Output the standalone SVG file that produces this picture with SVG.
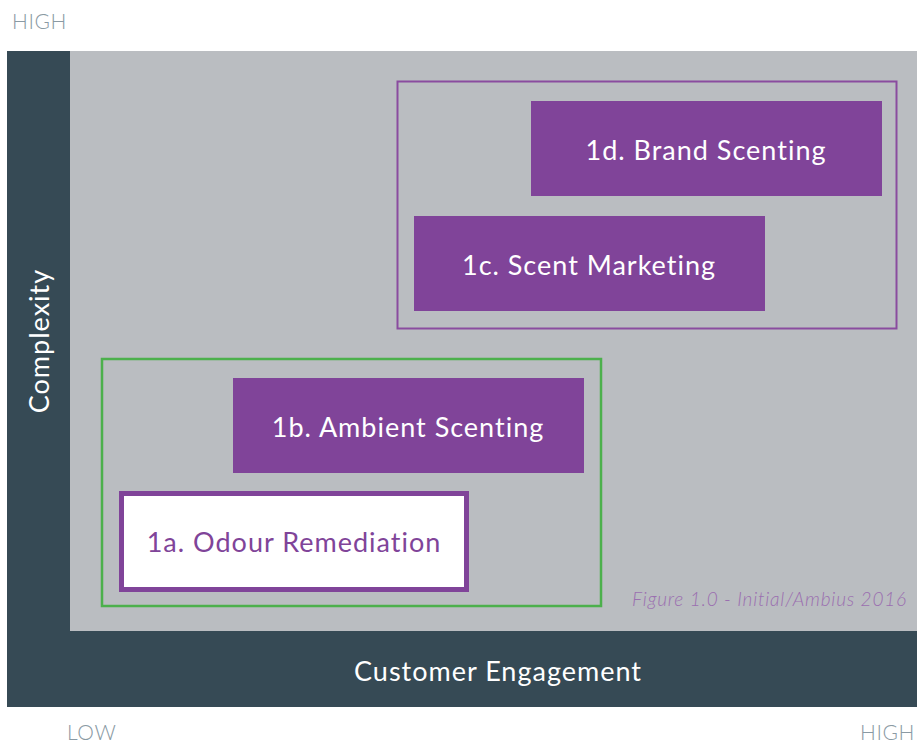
<svg xmlns="http://www.w3.org/2000/svg" width="917" height="745" viewBox="0 0 917 745">
<style>
.lbl{font-family:Lato,"Open Sans","Liberation Sans",sans-serif;font-size:27px;fill:#ffffff;text-anchor:middle;letter-spacing:1px}
.axis{font-family:Lato,"Open Sans","Liberation Sans",sans-serif;font-size:21px;fill:#8a9aa4;font-weight:300;letter-spacing:0.6px}
.box{fill:#804499}
</style>
<rect width="917" height="745" fill="#ffffff"/>
<g id="frame">
<rect x="7" y="51" width="910" height="656" fill="#364a55"/>
<rect x="70" y="51" width="847" height="580" fill="#babdc1"/>
</g>
<g id="axis-labels">
<text class="axis" x="12" y="29">HIGH</text>
<text class="axis" x="67" y="740">LOW</text>
<text class="axis" x="860" y="740">HIGH</text>
<text class="lbl" x="498" y="681">Customer Engagement</text>
<text class="lbl" transform="translate(49,341) rotate(-90)">Complexity</text>
</g>
<g id="groups">
<rect x="397.5" y="81.5" width="499" height="247" fill="none" stroke="#8a4c9f" stroke-width="2"/>
<rect x="102" y="359" width="499" height="247" fill="none" stroke="#4cb04c" stroke-width="2.5"/>
</g>
<g id="node-1d">
<rect class="box" x="531" y="101" width="351" height="95"/>
<text class="lbl" x="706" y="160">1d. Brand Scenting</text>
</g>
<g id="node-1c">
<rect class="box" x="414" y="216" width="351" height="95"/>
<text class="lbl" x="589" y="275">1c. Scent Marketing</text>
</g>
<g id="node-1b">
<rect class="box" x="233" y="378" width="351" height="95"/>
<text class="lbl" x="408" y="437">1b. Ambient Scenting</text>
</g>
<g id="node-1a">
<rect x="121.5" y="493.5" width="345" height="96" fill="#ffffff" stroke="#804499" stroke-width="5"/>
<text class="lbl" x="294" y="552" style="fill:#804499">1a. Odour Remediation</text>
</g>
<text x="907" y="606" text-anchor="end" font-family="Lato,'Open Sans','Liberation Sans',sans-serif" font-size="19" font-style="italic" font-weight="300" letter-spacing="0.8" fill="#9b6fb0">Figure 1.0 - Initial/Ambius 2016</text>
</svg>
